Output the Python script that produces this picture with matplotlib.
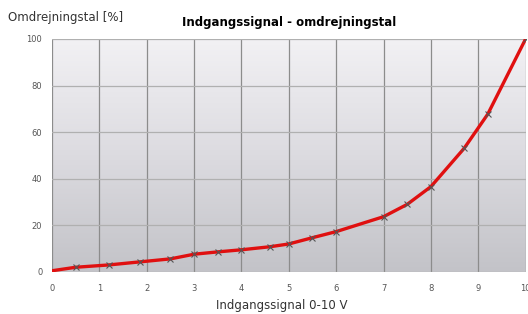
import numpy as np
import matplotlib
matplotlib.use("Agg")
from matplotlib import pyplot as plt
from matplotlib.colors import LinearSegmentedColormap

# input signal [V] and speed [%]
volts = [0, 0.5, 1.2, 1.85, 2.5, 3.0, 3.5, 4.0, 4.6, 5.0, 5.5, 6.0, 7.0, 7.5, 8.0, 8.7, 9.2, 10.0]
speed = [0.5, 2.0, 3.0, 4.3, 5.6, 7.6, 8.6, 9.5, 10.8, 12.0, 14.7, 17.3, 23.7, 29.0, 36.6, 53.0, 67.7, 100.0]
marked = slice(1, None)

xticks = list(range(0, 11))
yticks = [0, 20, 40, 60, 80, 100]

fig = plt.figure(figsize=(5.28, 3.14), dpi=100)
ax = fig.add_axes([0.0985, 0.134, 0.897, 0.742])

# vertical gray gradient as background (light at top, darker at bottom)
bg = LinearSegmentedColormap.from_list("bg", ["#f2f1f4", "#dcdbe0", "#c3c3c8"])
grad = np.linspace(0, 1, 256).reshape(-1, 1)
ax.imshow(grad, extent=[0, 10, 0, 100], aspect="auto", cmap=bg,
          origin="upper", zorder=0)

for x in xticks:
    ax.axvline(x, color="#8c8c8c", lw=0.9, zorder=1)
for y in yticks:
    ax.axhline(y, color="#b0b0b0", lw=0.9, zorder=1)

ax.plot(volts, speed, color="#e01010", lw=2.4, zorder=3, solid_capstyle="round")
ax.plot(volts[marked], speed[marked], ls="none", marker="x", ms=4, mew=0.8,
        color="#555555", zorder=4)

ax.set_xlim(0, 10)
ax.set_ylim(0, 100)
ax.set_xticks(xticks)
ax.set_yticks(yticks)
ax.tick_params(length=0, labelsize=6, colors="#555555", pad=9)
ax.tick_params(axis="y", pad=7)
for s in ax.spines.values():
    s.set_visible(False)

ax.set_title("Indgangssignal - omdrejningstal", fontsize=8.5, fontweight="bold", pad=9)
ax.set_xlabel("Indgangssignal 0-10 V", fontsize=8.5, color="#333333", labelpad=4)
ax.xaxis.label.set_x(0.485)
fig.text(0.015, 0.945, "Omdrejningstal [%]", fontsize=8.5, color="#333333", va="center")

fig.savefig("out.png", dpi=100)
